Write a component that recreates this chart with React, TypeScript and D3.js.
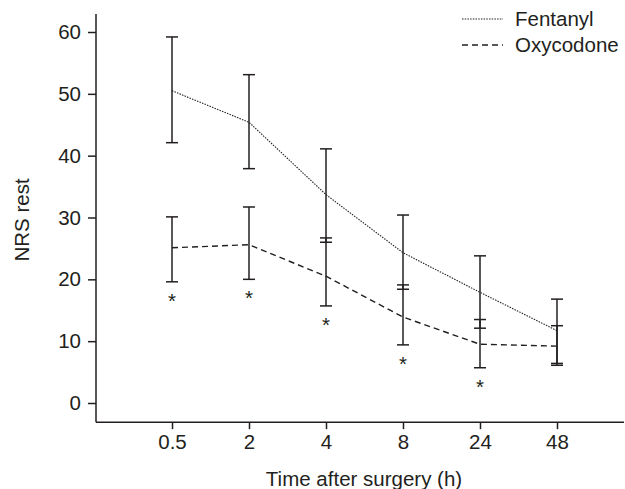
import React, { useEffect, useRef } from 'react';
import * as d3 from 'd3';

// time points (h)
const times = ['0.5', '2', '4', '8', '24', '48'];

// Fentanyl: mean, upper and lower error bar ends
const fentanylMean = [50.5, 45.4, 33.7, 24.3, 17.9, 11.7];
const fentanylUpper = [59.2, 53.1, 41.1, 30.4, 23.8, 16.8];
const fentanylLower = [42.1, 37.9, 26.0, 18.4, 12.1, 6.4];

// Oxycodone: mean, upper and lower error bar ends
const oxyMean = [25.1, 25.6, 20.5, 13.9, 9.5, 9.2];
const oxyUpper = [30.1, 31.7, 26.7, 19.1, 13.5, 12.5];
const oxyLower = [19.6, 20.0, 15.7, 9.4, 5.7, 6.1];

// significant difference marks
const significant = [true, true, true, true, true, false];

const yTicks = [0, 10, 20, 30, 40, 50, 60];

export default function App() {
    const ref = useRef<SVGSVGElement>(null);

    useEffect(() => {
        document.body.style.margin = '0';
        const svg = d3.select(ref.current);
        svg.selectAll('*').remove();

        const font = '"Liberation Sans", Arial, sans-serif';
        const fs = 20.5;
        const ink = '#231f20';

        const x = d3.scalePoint<string>().domain(times).range([172, 557]);
        const y = d3.scaleLinear().domain([0, 60]).range([403, 32]);

        // axes lines
        svg.append('line')
            .attr('x1', 96).attr('x2', 96)
            .attr('y1', y(62.9)).attr('y2', y(-3.1))
            .attr('stroke', ink).attr('stroke-width', 1.5);
        svg.append('line')
            .attr('x1', 96).attr('x2', 624)
            .attr('y1', y(-3.1)).attr('y2', y(-3.1))
            .attr('stroke', ink).attr('stroke-width', 1.5);

        const yAxis = svg.append('g')
            .attr('transform', 'translate(96,0)')
            .call(d3.axisLeft(y).tickValues(yTicks).tickSize(8).tickPadding(7));
        yAxis.select('.domain').remove();
        yAxis.selectAll('line').attr('stroke', ink).attr('stroke-width', 1.5);
        yAxis.selectAll('text')
            .attr('font-family', font).attr('font-size', fs).attr('fill', ink);

        const xAxis = svg.append('g')
            .attr('transform', `translate(0,${y(-3.1)})`)
            .call(d3.axisBottom(x).tickSize(7).tickPadding(5));
        xAxis.select('.domain').remove();
        xAxis.selectAll('line').attr('stroke', ink).attr('stroke-width', 1.5);
        xAxis.selectAll('text')
            .attr('font-family', font).attr('font-size', fs).attr('fill', ink);

        // axis titles
        svg.append('text')
            .attr('x', 364).attr('y', 486)
            .attr('text-anchor', 'middle')
            .attr('font-family', font).attr('font-size', fs).attr('fill', ink)
            .text('Time after surgery (h)');
        svg.append('text')
            .attr('transform', 'translate(29,220) rotate(-90)')
            .attr('text-anchor', 'middle')
            .attr('font-family', font).attr('font-size', fs).attr('fill', ink)
            .text('NRS rest');

        const series = [
            { mean: fentanylMean, up: fentanylUpper, lo: fentanylLower, dash: '1.5,1.2', width: 1.1 },
            { mean: oxyMean, up: oxyUpper, lo: oxyLower, dash: '6,4', width: 1.4 },
        ];

        const line = d3.line<number>()
            .x((_, i) => x(times[i]) as number)
            .y((d) => y(d));

        series.forEach((s) => {
            svg.append('path')
                .attr('d', line(s.mean))
                .attr('fill', 'none')
                .attr('stroke', ink)
                .attr('stroke-width', s.width)
                .attr('stroke-dasharray', s.dash);

            const g = svg.append('g').attr('stroke', ink).attr('stroke-width', 1.5);
            times.forEach((t, i) => {
                const cx = x(t) as number;
                g.append('line')
                    .attr('x1', cx).attr('x2', cx)
                    .attr('y1', y(s.up[i])).attr('y2', y(s.lo[i]));
                [s.up[i], s.lo[i]].forEach((v) => {
                    g.append('line')
                        .attr('x1', cx - 6).attr('x2', cx + 6)
                        .attr('y1', y(v)).attr('y2', y(v));
                });
            });
        });

        // asterisks
        times.forEach((t, i) => {
            if (!significant[i]) return;
            svg.append('text')
                .attr('x', x(t) as number)
                .attr('y', y(oxyLower[i]) + 26)
                .attr('text-anchor', 'middle')
                .attr('font-family', font).attr('font-size', fs).attr('fill', ink)
                .text('*');
        });

        // legend
        const legend = [
            { name: 'Fentanyl', dash: '1.5,1.2', width: 1.1, yPos: 19 },
            { name: 'Oxycodone', dash: '6,4', width: 1.4, yPos: 45 },
        ];
        legend.forEach((l) => {
            svg.append('line')
                .attr('x1', 462).attr('x2', 503)
                .attr('y1', l.yPos).attr('y2', l.yPos)
                .attr('stroke', ink)
                .attr('stroke-width', l.width)
                .attr('stroke-dasharray', l.dash);
            svg.append('text')
                .attr('x', 515).attr('y', l.yPos + 7)
                .attr('font-family', font).attr('font-size', fs).attr('fill', ink)
                .text(l.name);
        });
    }, []);

    return <svg ref={ref} width={625} height={489} style={{ display: 'block', background: '#fff' }} />;
}
